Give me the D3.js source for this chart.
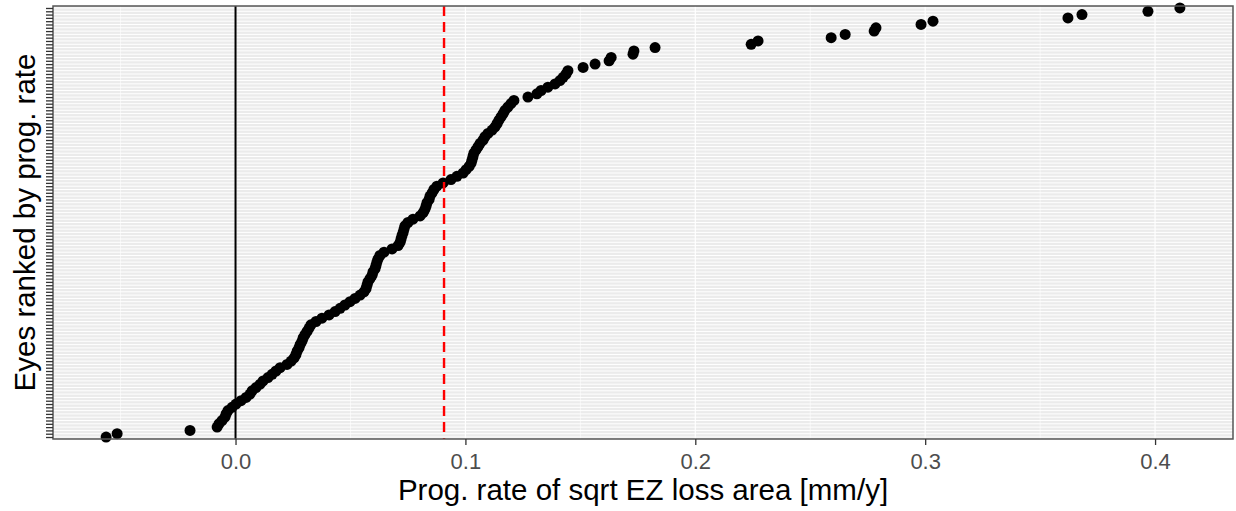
<!DOCTYPE html>
<html>
<head>
<meta charset="utf-8">
<script src="https://cdn.jsdelivr.net/npm/d3@7/dist/d3.min.js"></script>
<style>
  html, body { margin: 0; padding: 0; background: #ffffff; }
  svg { display: block; }
</style>
</head>
<body>
<svg id="chart" width="1236" height="511"></svg>
<script>
// Progression rates (mm/y) of each eye, sorted ascending (rank 1 = slowest)
const rates = [
  -0.0563, -0.0515, -0.0198, -0.0080, -0.0072, -0.0059, -0.0046, -0.0041, -0.0033, -0.0015,
  0.0002, 0.0024, 0.0046, 0.0063, 0.0072, 0.0089, 0.0107, 0.0120, 0.0141, 0.0159,
  0.0176, 0.0194, 0.0224, 0.0242, 0.0255, 0.0263, 0.0268, 0.0276, 0.0281, 0.0289,
  0.0294, 0.0302, 0.0311, 0.0320, 0.0328, 0.0350, 0.0376, 0.0407, 0.0433, 0.0455,
  0.0476, 0.0498, 0.0520, 0.0542, 0.0559, 0.0568, 0.0572, 0.0576, 0.0585, 0.0594,
  0.0598, 0.0607, 0.0611, 0.0615, 0.0620, 0.0628, 0.0646, 0.0681, 0.0707, 0.0716,
  0.0720, 0.0724, 0.0729, 0.0733, 0.0737, 0.0750, 0.0772, 0.0803, 0.0816, 0.0824,
  0.0829, 0.0833, 0.0842, 0.0846, 0.0855, 0.0863, 0.0876, 0.0903, 0.0937, 0.0963,
  0.0990, 0.1003, 0.1016, 0.1025, 0.1029, 0.1033, 0.1037, 0.1046, 0.1055, 0.1064,
  0.1077, 0.1085, 0.1098, 0.1116, 0.1129, 0.1138, 0.1146, 0.1155, 0.1164, 0.1172,
  0.1185, 0.1198, 0.1211, 0.1272, 0.1311, 0.1329, 0.1359, 0.1390, 0.1411, 0.1425,
  0.1438, 0.1446, 0.1512, 0.1564, 0.1625, 0.1634, 0.1729, 0.1733, 0.1825, 0.2243,
  0.2273, 0.2591, 0.2652, 0.2778, 0.2786, 0.2982, 0.3034, 0.3621, 0.3682, 0.3969,
  0.4108
];
const ranks = rates.map((d, i) => i + 1);
const xTicks = [0.0, 0.1, 0.2, 0.3, 0.4];
const xMinorTicks = [-0.05, 0.05, 0.15, 0.25, 0.35];
const zeroLine = 0.0;
const refLine = 0.0907;       // red dashed reference
const xDomain = [-0.0794, 0.4339];
const xTitle = "Prog. rate of sqrt EZ loss area [mm/y]";
const yTitle = "Eyes ranked by prog. rate";

const panel = { left: 53, right: 1233, top: 6, bottom: 439 };
const svg = d3.select("#chart");
const font = "'Liberation Sans', Arial, Helvetica, sans-serif";

const x = d3.scaleLinear().domain(xDomain).range([panel.left, panel.right]);
const y = d3.scalePoint().domain(ranks).range([panel.bottom, panel.top]).padding(0.6);

// panel background
svg.append("rect")
  .attr("x", panel.left).attr("y", panel.top)
  .attr("width", panel.right - panel.left).attr("height", panel.bottom - panel.top)
  .attr("fill", "#EBEBEB");

const grid = svg.append("g");
grid.selectAll("line.hg").data(ranks).join("line")
  .attr("x1", panel.left).attr("x2", panel.right)
  .attr("y1", d => y(d)).attr("y2", d => y(d))
  .attr("stroke", "#ffffff").attr("stroke-width", 1);
grid.selectAll("line.vmin").data(xMinorTicks).join("line")
  .attr("x1", d => x(d)).attr("x2", d => x(d))
  .attr("y1", panel.top).attr("y2", panel.bottom)
  .attr("stroke", "#ffffff").attr("stroke-width", 0.6);
grid.selectAll("line.vmaj").data(xTicks).join("line")
  .attr("x1", d => x(d)).attr("x2", d => x(d))
  .attr("y1", panel.top).attr("y2", panel.bottom)
  .attr("stroke", "#ffffff").attr("stroke-width", 1.2);

// points
svg.append("g").selectAll("circle").data(rates).join("circle")
  .attr("cx", d => x(d))
  .attr("cy", (d, i) => y(ranks[i]))
  .attr("r", 5.5)
  .attr("fill", "#000000");

// reference lines
svg.append("line")
  .attr("x1", x(zeroLine)).attr("x2", x(zeroLine))
  .attr("y1", panel.top).attr("y2", panel.bottom)
  .attr("stroke", "#000000").attr("stroke-width", 2);
svg.append("line")
  .attr("x1", x(refLine)).attr("x2", x(refLine))
  .attr("y1", panel.top).attr("y2", panel.bottom)
  .attr("stroke", "#FF0000").attr("stroke-width", 2.4)
  .attr("stroke-dasharray", "10,6");

// panel border
svg.append("rect")
  .attr("x", panel.left).attr("y", panel.top)
  .attr("width", panel.right - panel.left).attr("height", panel.bottom - panel.top)
  .attr("fill", "none").attr("stroke", "#555555").attr("stroke-width", 1.5);

// x axis
const xAxis = svg.append("g")
  .attr("transform", `translate(0,${panel.bottom})`)
  .call(d3.axisBottom(x).tickValues(xTicks).tickFormat(d3.format(".1f")).tickSize(6).tickPadding(8));
xAxis.select(".domain").remove();
xAxis.selectAll(".tick line").attr("stroke", "#333333").attr("stroke-width", 1.3);
xAxis.selectAll(".tick text").attr("fill", "#4D4D4D")
  .style("font-family", font).style("font-size", "22px");

// y axis (ticks only, no labels)
const yAxis = svg.append("g")
  .attr("transform", `translate(${panel.left},0)`)
  .call(d3.axisLeft(y).tickSize(7).tickFormat(""));
yAxis.select(".domain").remove();
yAxis.selectAll(".tick line").attr("stroke", "#333333").attr("stroke-width", 1.3);

// titles
svg.append("text")
  .attr("x", (panel.left + panel.right) / 2).attr("y", 500)
  .attr("text-anchor", "middle")
  .style("font-family", font).style("font-size", "29.5px").attr("fill", "#000000")
  .text(xTitle);
svg.append("text")
  .attr("transform", `translate(35,${(panel.top + panel.bottom) / 2}) rotate(-90)`)
  .attr("text-anchor", "middle")
  .style("font-family", font).style("font-size", "29.5px").attr("fill", "#000000")
  .text(yTitle);
</script>
</body>
</html>
